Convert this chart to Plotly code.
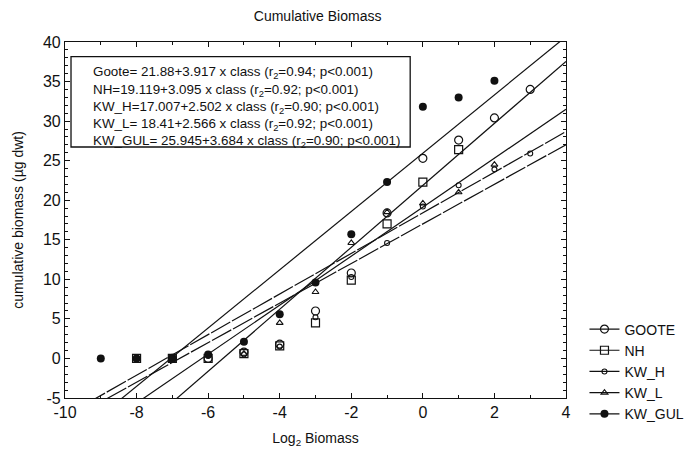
import plotly.graph_objects as go

# ---- data ----
goote_x = [-7, -6, -5, -4, -3, -2, -1, 0, 1, 2, 3]
goote_y = [0.0, 0.0, 0.8, 1.8, 6.0, 10.8, 18.4, 25.3, 27.6, 30.4, 34.0]

nh_x = [-8, -7, -6, -5, -4, -3, -2, -1, 0, 1]
nh_y = [0.0, 0.0, 0.0, 0.6, 1.6, 4.5, 9.9, 17.0, 22.3, 26.4]

kwh_x = [-6, -5, -4, -3, -2, -1, 0, 1, 2, 3]
kwh_y = [0.3, 0.5, 1.5, 5.2, 10.3, 14.6, 19.2, 21.9, 23.9, 25.9]

kwl_x = [-5, -4, -3, -2, -1, 0, 1, 2]
kwl_y = [0.6, 4.5, 8.4, 14.6, 18.5, 19.6, 21.0, 24.5]

gul_x = [-9, -8, -7, -6, -5, -4, -3, -2, -1, 0, 1, 2]
gul_y = [0.0, 0.0, 0.0, 0.5, 2.1, 5.6, 9.6, 15.7, 22.3, 31.8, 33.0, 35.1]

# regression lines: (intercept, slope)
fits = {
    "GOOTE": (21.88, 3.917),
    "NH": (19.119, 3.095),
    "KW_H": (17.007, 2.502),
    "KW_L": (18.41, 2.566),
    "KW_GUL": (25.945, 3.684),
}
fit_x = [-10, 4]

equations = [
    "Goote= 21.88+3.917 x class (r<sub>2</sub>=0.94; p<0.001)",
    "NH=19.119+3.095 x class (r<sub>2</sub>=0.92; p<0.001)",
    "KW_H=17.007+2.502 x class (r<sub>2</sub>=0.90; p<0.001)",
    "KW_L= 18.41+2.566 x class (r<sub>2</sub>=0.92; p<0.001)",
    "KW_GUL= 25.945+3.684 x class (r<sub>2</sub>=0.90; p<0.001)",
]

x_ticks = [-10, -8, -6, -4, -2, 0, 2, 4]
y_ticks = [-5, 0, 5, 10, 15, 20, 25, 30, 35, 40]

FONT = "Liberation Sans, Arial, sans-serif"
INK = "#111111"

series = [
    ("GOOTE", goote_x, goote_y, dict(symbol="circle-open", size=8, color=INK, line=dict(width=1.2, color=INK)), "solid"),
    ("NH", nh_x, nh_y, dict(symbol="square-open", size=8, color=INK, line=dict(width=1.2, color=INK)), "solid"),
    ("KW_H", kwh_x, kwh_y, dict(symbol="circle-open", size=5, color=INK, line=dict(width=1.1, color=INK)), "22px,2px"),
    ("KW_L", kwl_x, kwl_y, dict(symbol="triangle-up-open", size=6, color=INK, line=dict(width=1.1, color=INK)), "22px,2px"),
    ("KW_GUL", gul_x, gul_y, dict(symbol="circle", size=8, color=INK, line=dict(width=0, color=INK)), "solid"),
]

fig = go.Figure()

# regression lines
for name, xs, ys, mk, dash in series:
    b0, b1 = fits[name]
    fig.add_trace(go.Scatter(
        x=fit_x, y=[b0 + b1 * v for v in fit_x], mode="lines",
        line=dict(color=INK, width=1.2, dash=dash), showlegend=False, hoverinfo="skip"))

# filled markers first, open ones on top
order = [4, 0, 1, 2, 3]
for i in order:
    name, xs, ys, mk, dash = series[i]
    fig.add_trace(go.Scatter(x=xs, y=ys, mode="markers", marker=mk, showlegend=False, name=name))

# legend entries
for name, xs, ys, mk, dash in series:
    fig.add_trace(go.Scatter(x=[None], y=[None], mode="lines+markers", name=name,
                             marker=mk, line=dict(color=INK, width=1.2)))

# equation box
fig.add_shape(type="rect", xref="paper", yref="paper", x0=0.012, x1=0.689, y0=0.705, y1=0.959,
              line=dict(color=INK, width=1.3), fillcolor="white", layer="above")
eq_y = [0.913, 0.865, 0.816, 0.767, 0.720]
for txt, yy in zip(equations, eq_y):
    fig.add_annotation(xref="paper", yref="paper", x=0.052, y=yy, xanchor="left", yanchor="middle",
                       text=txt, showarrow=False, font=dict(family=FONT, size=13.4, color=INK))

axis_common = dict(showline=True, linecolor=INK, linewidth=1.2, mirror="ticks", ticks="inside",
                   ticklen=5, tickwidth=1, tickcolor=INK, showgrid=False, zeroline=False,
                   tickfont=dict(family=FONT, size=16, color=INK))

fig.update_xaxes(range=[-10, 4], tickvals=x_ticks, ticktext=[str(v) for v in x_ticks],
                 minor=dict(ticks="inside", ticklen=3, dtick=1, tickcolor=INK, showgrid=False),
                 title=dict(text="Log<sub>2</sub> Biomass", font=dict(family=FONT, size=14, color=INK), standoff=12),
                 **axis_common)
fig.update_yaxes(range=[-5, 40], tickvals=y_ticks, ticktext=[str(v) for v in y_ticks],
                 minor=dict(ticks="inside", ticklen=3, dtick=1, tickcolor=INK, showgrid=False),
                 title=dict(text="cumulative biomass (µg dwt)", font=dict(family=FONT, size=14, color=INK), standoff=16),
                 **axis_common)

fig.update_layout(
    width=686, height=451,
    margin=dict(l=65, r=120, t=42, b=53, autoexpand=False),
    paper_bgcolor="white", plot_bgcolor="white",
    title=dict(text="Cumulative Biomass", x=0.463, xanchor="center", y=0.965, yanchor="middle",
               font=dict(family=FONT, size=14, color=INK)),
    legend=dict(xref="container", yref="container", x=0.852, xanchor="left", y=0.305, yanchor="top",
                bgcolor="rgba(0,0,0,0)",
                font=dict(family=FONT, size=14, color=INK), itemwidth=30, tracegroupgap=0),
    font=dict(family=FONT, color=INK),
)

fig.write_html("out.html")
